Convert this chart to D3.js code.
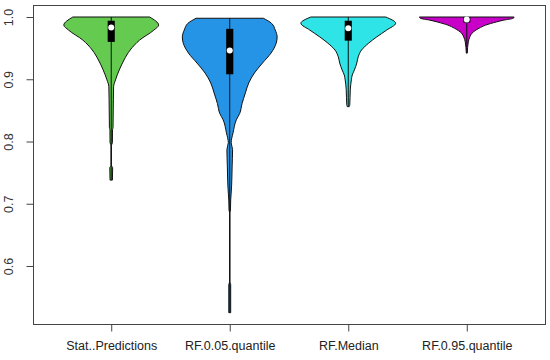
<!DOCTYPE html>
<html>
<head>
<meta charset="utf-8">
<script src="https://cdn.jsdelivr.net/npm/d3@7"></script>
<style>
  body { margin: 0; background: #fff; }
  text { font-family: "Liberation Sans", Arial, sans-serif; }
</style>
</head>
<body>
<div id="chart"></div>
<script>
// groups shown on the x axis
var groups = ["Stat..Predictions", "RF.0.05.quantile", "RF.Median", "RF.0.95.quantile"];
var fills = ["#64cb50", "#2594e6", "#2ee4e6", "#c800c8"];

// density profiles: value, relative density (1 = widest)
var statValue = [1.000, 0.987, 0.979, 0.963, 0.947, 0.931, 0.915, 0.899, 0.888, 0.867, 0.822, 0.819, 0.798, 0.793, 0.762, 0.758, 0.738];
var statDens  = [0.81, 1.00, 0.90, 0.60, 0.40, 0.27, 0.17, 0.09, 0.05, 0.045, 0.038, 0.027, 0.025, 0, 0, 0.03, 0.025];

var q05Value = [0.998, 0.990, 0.979, 0.968, 0.958, 0.942, 0.926, 0.910, 0.894, 0.878, 0.861, 0.845, 0.835, 0.814, 0.798, 0.787, 0.759, 0.730, 0.717, 0.706, 0.690, 0.684, 0.575, 0.570, 0.525];
var q05Dens  = [0.71, 0.88, 0.96, 1.00, 0.98, 0.87, 0.69, 0.52, 0.40, 0.33, 0.26, 0.21, 0.14, 0.07, 0.03, 0.06, 0.05, 0.04, 0.03, 0.02, 0.015, 0, 0, 0.02, 0.02];

var medValue = [1.000, 0.990, 0.979, 0.968, 0.958, 0.947, 0.936, 0.926, 0.915, 0.907, 0.899, 0.883, 0.859, 0.856];
var medDens  = [0.79, 1.00, 0.81, 0.60, 0.43, 0.28, 0.21, 0.18, 0.13, 0.085, 0.065, 0.043, 0.032, 0.02];

var q95Value = [1.000, 0.998, 0.995, 0.992, 0.987, 0.982, 0.974, 0.968, 0.960, 0.942];
var q95Dens  = [1.00, 0.98, 0.78, 0.62, 0.40, 0.26, 0.11, 0.064, 0.032, 0.01];

// box: first quartile, median, third quartile
var boxQ1  = [0.960, 0.908, 0.962, 0.991];
var boxMed = [0.983, 0.946, 0.982, 0.996];
var boxQ3  = [0.994, 0.981, 0.994, 1.000];

var yTicks = [0.6, 0.7, 0.8, 0.9, 1.0];

var profiles = [
  [statValue, statDens],
  [q05Value, q05Dens],
  [medValue, medDens],
  [q95Value, q95Dens]
];

var margin = {top: 5, right: 5, bottom: 36, left: 33},
    width = 550 - margin.left - margin.right,
    height = 360 - margin.top - margin.bottom;

var svg = d3.select("#chart")
  .append("svg")
    .attr("width", 550)
    .attr("height", 360)
  .append("g")
    .attr("transform", "translate(" + margin.left + "," + margin.top + ")");

var x = d3.scaleLinear()
  .domain([0.34, 4.66])
  .range([0, width]);

var y = d3.scaleLinear()
  .domain([0.5068, 1.0193])
  .range([height, 0]);

// plot frame
svg.append("rect")
  .attr("x", 0.5).attr("y", 0.5)
  .attr("width", width).attr("height", height)
  .attr("fill", "none")
  .attr("stroke", "#444");

var yAxis = svg.append("g")
  .attr("transform", "translate(0.5,0)")
  .call(d3.axisLeft(y).tickValues(yTicks).tickFormat(d3.format(".1f")).tickSize(7).tickPadding(4));
yAxis.select(".domain").remove();
yAxis.selectAll("line").attr("stroke", "#444");
yAxis.selectAll("text")
  .attr("transform", "rotate(-90)")
  .attr("x", 0)
  .attr("y", -21)
  .attr("dy", "0")
  .style("text-anchor", "middle")
  .style("font-size", "12.5px")
  .style("fill", "#333");

var xAxis = svg.append("g")
  .attr("transform", "translate(0," + (height + 0.5) + ")")
  .call(d3.axisBottom(x).tickValues([1, 2, 3, 4]).tickFormat(function(d) { return groups[d - 1]; }).tickSize(7).tickPadding(10));
xAxis.select(".domain").remove();
xAxis.selectAll("line").attr("stroke", "#444");
xAxis.selectAll("text")
  .style("font-size", "12.5px")
  .style("fill", "#222");

profiles.forEach(function(p, i) {
  var pos = i + 1;
  var pts = p[0].map(function(v, k) { return {v: v, d: p[1][k]}; });

  var area = d3.area()
    .curve(d3.curveMonotoneY)
    .y(function(d) { return y(d.v); })
    .x0(function(d) { return x(pos - d.d * 0.4); })
    .x1(function(d) { return x(pos + d.d * 0.4); });

  svg.append("path")
    .datum(pts)
    .attr("fill", fills[i])
    .attr("stroke", "#111")
    .attr("stroke-width", 1)
    .attr("d", area);

  // whisker line through the violin
  svg.append("line")
    .attr("x1", x(pos)).attr("x2", x(pos))
    .attr("y1", y(d3.max(p[0]))).attr("y2", y(d3.min(p[0])))
    .attr("stroke", "#111")
    .attr("stroke-width", 1);

  svg.append("rect")
    .attr("x", x(pos - 0.03))
    .attr("width", x(pos + 0.03) - x(pos - 0.03))
    .attr("y", y(boxQ3[i]))
    .attr("height", y(boxQ1[i]) - y(boxQ3[i]))
    .attr("fill", "#000");

  svg.append("circle")
    .attr("cx", x(pos))
    .attr("cy", y(boxMed[i]))
    .attr("r", 3)
    .attr("fill", "#fff");
});
</script>
</body>
</html>
